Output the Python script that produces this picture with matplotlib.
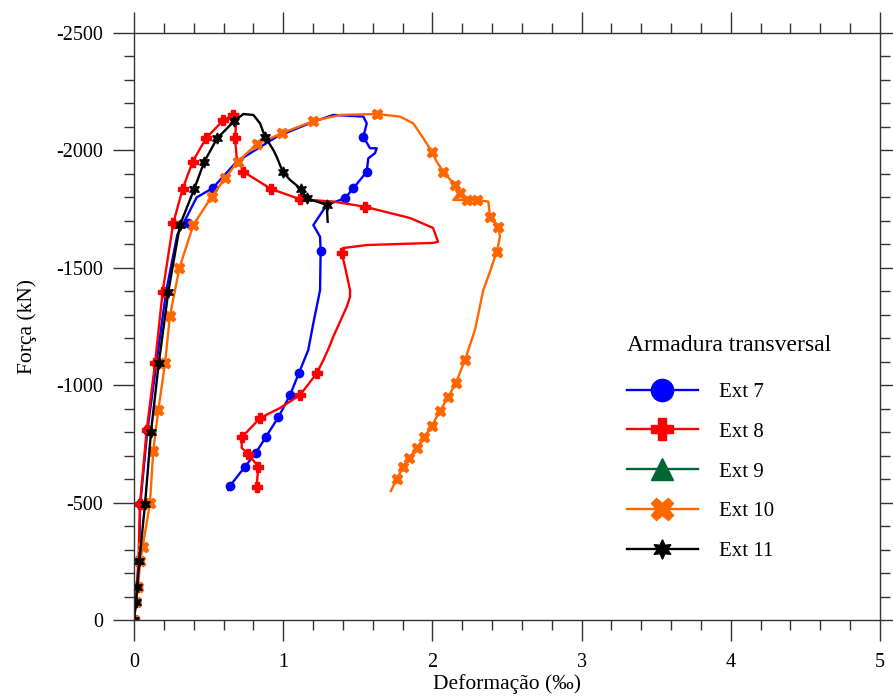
import matplotlib
matplotlib.use("Agg")
import matplotlib.pyplot as plt
from matplotlib.lines import Line2D
from matplotlib.ticker import MultipleLocator

plt.rcParams['font.family'] = ['Liberation Serif', 'DejaVu Serif']
plt.rcParams['axes.unicode_minus'] = False
plt.rcParams['mathtext.fontset'] = 'stix'

# ---- Ext 7 (blue) ----
ext7_x = [0, 0.012, 0.020, 0.033, 0.042, 0.090, 0.150, 0.215, 0.290, 0.364, 0.420, 0.527,
          0.688, 0.956, 1.202, 1.336, 1.537, 1.560, 1.537, 1.582, 1.627, 1.615, 1.570, 1.560,
          1.470, 1.414, 1.292, 1.202, 1.247, 1.251, 1.247, 1.202, 1.168, 1.106, 1.046, 0.967,
          0.885, 0.818, 0.744, 0.643, 0.632]
ext7_y = [0, -78, -139, -253, -494, -809, -1093, -1398, -1640, -1730, -1800, -1839,
          -1952, -2058, -2122, -2151, -2144, -2115, -2058, -2009, -2009, -1988, -1966, -1909,
          -1839, -1796, -1768, -1682, -1632, -1572, -1405, -1264, -1150, -1053, -958, -863,
          -781, -713, -653, -571, -554]
ext7_mx = [0, 0.012, 0.020, 0.033, 0.042, 0.090, 0.150, 0.215, 0.364, 0.527, 1.537, 1.560,
           1.470, 1.414, 1.251, 1.106, 1.046, 0.967, 0.885, 0.818, 0.744, 0.643]
ext7_my = [0, -78, -139, -253, -494, -809, -1093, -1398, -1690, -1839, -2058, -1909,
           -1839, -1796, -1572, -1053, -958, -863, -781, -713, -653, -571]

# ---- Ext 8 (red) ----
ext8_x = [0, 0.010, 0.018, 0.030, 0.040, 0.085, 0.141, 0.192, 0.263, 0.326, 0.393, 0.483,
          0.599, 0.666, 0.700, 0.688, 0.677, 0.688, 0.733, 0.918, 1.113, 1.336, 1.548, 1.850,
          2.004, 2.038, 2.004, 1.560, 1.401, 1.392, 1.414, 1.448, 1.448, 1.426, 1.336, 1.300,
          1.269, 1.225, 1.113, 0.979, 0.845, 0.722, 0.722, 0.766, 0.833, 0.822]
ext8_y = [0, -78, -139, -253, -494, -809, -1093, -1398, -1690, -1836, -1952, -2052,
          -2129, -2151, -2155, -2144, -2052, -1973, -1909, -1836, -1792, -1782, -1760, -1712,
          -1670, -1611, -1606, -1597, -1584, -1562, -1505, -1405, -1377, -1334, -1207, -1150,
          -1107, -1051, -958, -903, -860, -778, -733, -707, -653, -568]
ext8_mx = [0, 0.010, 0.018, 0.030, 0.040, 0.085, 0.141, 0.192, 0.263, 0.326, 0.393, 0.483,
           0.599, 0.666, 0.677, 0.733, 0.918, 1.113, 1.548, 1.392, 1.225, 1.113, 0.845,
           0.722, 0.766, 0.833, 0.822]
ext8_my = [0, -78, -139, -253, -494, -809, -1093, -1398, -1690, -1836, -1952, -2052,
           -2129, -2151, -2052, -1909, -1836, -1792, -1760, -1562, -1051, -958, -860,
           -778, -707, -653, -568]

# ---- Ext 9 (green): no readings plotted ----
ext9_x = []
ext9_y = []

# ---- Ext 10 (orange) ----
ext10_x = [0, 0.015, 0.026, 0.042, 0.058, 0.107, 0.129, 0.163, 0.208, 0.241, 0.304, 0.397,
           0.521, 0.610, 0.695, 0.822, 0.990, 1.202, 1.381, 1.627, 1.783, 1.872, 1.939, 1.995,
           2.029, 2.073, 2.151, 2.185, 2.140, 2.230, 2.297, 2.375, 2.386, 2.442, 2.453, 2.431,
           2.386, 2.341, 2.285, 2.218, 2.158, 2.107, 2.051, 1.995, 1.944, 1.895, 1.845, 1.801,
           1.761, 1.721]
ext10_y = [0, -78, -139, -253, -312, -497, -721, -894, -1093, -1296, -1498, -1682,
           -1803, -1881, -1952, -2026, -2073, -2125, -2151, -2155, -2144, -2115, -2052, -1995,
           -1952, -1909, -1853, -1817, -1789, -1789, -1789, -1782, -1718, -1675, -1632, -1569,
           -1483, -1405, -1235, -1107, -1011, -951, -891, -826, -778, -731, -689, -650,
           -600, -549]
ext10_mx = [0, 0.015, 0.026, 0.042, 0.058, 0.107, 0.129, 0.163, 0.208, 0.241, 0.304, 0.397,
            0.521, 0.610, 0.695, 0.822, 0.990, 1.202, 1.627, 1.995, 2.073, 2.151, 2.185, 2.230,
            2.297, 2.386, 2.442, 2.431, 2.218, 2.158, 2.107, 2.051, 1.995, 1.944, 1.895, 1.845,
            1.801, 1.761]
ext10_my = [0, -78, -139, -253, -312, -497, -721, -894, -1093, -1296, -1498, -1682,
            -1803, -1881, -1952, -2026, -2073, -2125, -2155, -1995, -1909, -1853, -1817, -1789,
            -1789, -1718, -1675, -1569, -1107, -1011, -951, -891, -826, -778, -731, -689,
            -650, -600]

# ---- Ext 11 (black) ----
ext11_x = [0, 0.013, 0.022, 0.036, 0.074, 0.114, 0.166, 0.230, 0.308, 0.404, 0.471, 0.558,
           0.672, 0.733, 0.800, 0.845, 0.878, 0.934, 0.956, 0.997, 1.046, 1.119, 1.158, 1.225,
           1.292, 1.298]
ext11_y = [0, -78, -139, -253, -494, -802, -1093, -1398, -1682, -1836, -1952, -2052,
           -2125, -2155, -2151, -2115, -2058, -2002, -1973, -1909, -1874, -1836, -1796, -1782,
           -1768, -1696]
ext11_mx = [0, 0.013, 0.022, 0.036, 0.074, 0.114, 0.166, 0.230, 0.308, 0.404, 0.471, 0.558,
            0.672, 0.878, 0.997, 1.119, 1.158, 1.292]
ext11_my = [0, -78, -139, -253, -494, -802, -1093, -1398, -1682, -1836, -1952, -2052,
            -2125, -2058, -1909, -1836, -1796, -1768]

labels = ["Ext 7", "Ext 8", "Ext 9", "Ext 10", "Ext 11"]
colors = ["#0000FF", "#FF0000", "#006633", "#FF6600", "#000000"]
markers = ["o", "P", "^", "X", (6, 1, 0)]
mark_sizes = [6, 7.5, 7, 7.5, 8]
legend_sizes = [16, 16, 16, 16, 14]

series = [
    (ext7_x, ext7_y, ext7_mx, ext7_my),
    (ext8_x, ext8_y, ext8_mx, ext8_my),
    (ext9_x, ext9_y, [], []),
    (ext10_x, ext10_y, ext10_mx, ext10_my),
    (ext11_x, ext11_y, ext11_mx, ext11_my),
]

fig = plt.figure(figsize=(8.93, 6.96), dpi=100)
ax = fig.add_axes([134 / 893, 76 / 696, 746 / 893, 587 / 696])

for (lx, ly, mx, my), c, m, ms in zip(series, colors, markers, mark_sizes):
    ax.plot(lx, ly, color=c, lw=1.7, solid_joinstyle='round')
    ax.plot(mx, my, ls='none', marker=m, color=c, ms=ms, mec=c)

ax.set_xlim(0, 5)
ax.set_ylim(0, -2500)
ax.xaxis.set_major_locator(MultipleLocator(1))
ax.xaxis.set_minor_locator(MultipleLocator(0.2))
ax.yaxis.set_major_locator(MultipleLocator(500))
ax.yaxis.set_minor_locator(MultipleLocator(100))

for s in ax.spines.values():
    s.set_linewidth(1.0)
    s.set_color('#333333')
ax.tick_params(which='both', direction='out', top=True, right=True,
               color='#333333', width=1.0, labelsize=14.5)
ax.tick_params(which='major', length=15)
ax.tick_params(which='minor', length=7.5)
ax.tick_params(axis='y', which='major', pad=7)
ax.tick_params(axis='x', which='major', pad=9)

ax.set_xlabel("Deformação (‰)", fontsize=15.5, labelpad=1)
ax.set_ylabel("Força (kN)", fontsize=15.5, labelpad=14)

handles = [Line2D([], [], color=c, lw=1.7, marker=m, ms=s, mec=c)
           for c, m, s in zip(colors, markers, legend_sizes)]
leg = ax.legend(handles, labels, title="Armadura transversal", frameon=False,
                fontsize=15, title_fontsize=17, alignment='left',
                handlelength=3.4, handletextpad=1.0, labelspacing=0.97,
                loc='upper left', bbox_to_anchor=(627 / 893, 1 - 335 / 696),
                bbox_transform=fig.transFigure, borderpad=0, borderaxespad=0)
# a little more room between the legend title and its entries
leg._legend_box.sep = 19

fig.savefig("out.png", dpi=100)
